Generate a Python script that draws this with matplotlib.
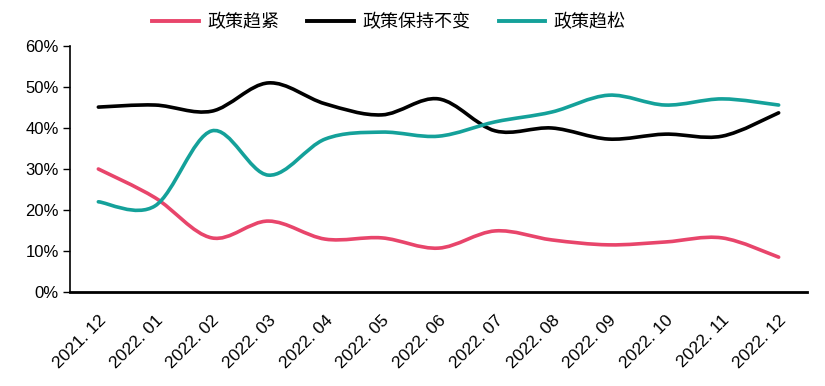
import matplotlib
matplotlib.use('Agg')
import matplotlib.pyplot as plt
from matplotlib.path import Path
from matplotlib.patches import PathPatch
from matplotlib.lines import Line2D
from matplotlib.ticker import PercentFormatter
import numpy as np

months = ['2021. 12', '2022. 01', '2022. 02', '2022. 03', '2022. 04', '2022. 05', '2022. 06',
          '2022. 07', '2022. 08', '2022. 09', '2022. 10', '2022. 11', '2022. 12']
tight = [30.0, 23.0, 13.2, 17.3, 12.9, 13.2, 10.7, 14.9, 12.7, 11.5, 12.2, 13.2, 8.5]
keep = [45.1, 45.6, 44.1, 51.0, 45.9, 43.2, 47.1, 39.3, 40.0, 37.3, 38.5, 38.0, 43.7]
loose = [22.0, 21.0, 39.3, 28.5, 37.3, 39.0, 38.0, 41.5, 43.9, 48.0, 45.6, 47.1, 45.6]

names = ['政策趋紧', '政策保持不变', '政策趋松']
colors = ['#E8456B', '#000000', '#14A19A']


def smooth_path(x, y):
    # excel-like smoothed line: bezier segments, control points from neighbours
    pts = np.column_stack([x, y])
    n = len(pts)
    verts = [pts[0]]
    codes = [Path.MOVETO]
    for i in range(n - 1):
        p0 = pts[i - 1] if i > 0 else pts[i]
        p1 = pts[i]
        p2 = pts[i + 1]
        p3 = pts[i + 2] if i + 2 < n else pts[i + 1]
        c1 = p1 + (p2 - p0) / 6.0
        c2 = p2 - (p3 - p1) / 6.0
        verts += [c1, c2, p2]
        codes += [Path.CURVE4] * 3
    return Path(verts, codes)


fig = plt.figure(figsize=(8.25, 3.86), dpi=100)
ax = fig.add_axes([70 / 825, 1 - 292 / 386, (807 - 70) / 825, (292 - 46) / 386])

x = np.arange(len(months))
handles = []
for vals, name, c in zip([tight, keep, loose], names, colors):
    patch = PathPatch(smooth_path(x, np.array(vals)), facecolor='none', edgecolor=c,
                      lw=2.6, capstyle='round')
    ax.add_patch(patch)
    handles.append(Line2D([], [], color=c, lw=2.8, label=name))

ax.set_xlim(-0.5, len(months) - 0.5)
ax.set_ylim(0, 60)
ax.set_yticks(range(0, 61, 10))
ax.yaxis.set_major_formatter(PercentFormatter(decimals=0))
ax.set_xticks(x)
ax.set_xticklabels(months, rotation=45, ha='right', rotation_mode='anchor',
                   fontfamily='Liberation Sans', fontsize=12.5)
for lab in ax.get_yticklabels():
    lab.set_fontfamily('Liberation Sans')
    lab.set_fontsize(12)
ax.tick_params(axis='x', length=0, pad=15)
ax.tick_params(axis='y', length=5, width=1, direction='out', pad=3)
ax.spines['top'].set_visible(False)
ax.spines['right'].set_visible(False)
ax.spines['left'].set_linewidth(1.2)
ax.spines['bottom'].set_linewidth(2)

fig.legend(handles=handles, loc='center', bbox_to_anchor=(389 / 825, 1 - 22 / 386), ncol=3,
           frameon=False, handlelength=2.6, columnspacing=1.55, handletextpad=0.45,
           prop={'family': ['Noto Sans CJK SC', 'DejaVu Sans'], 'size': 13})

fig.savefig('out.png', dpi=100)
